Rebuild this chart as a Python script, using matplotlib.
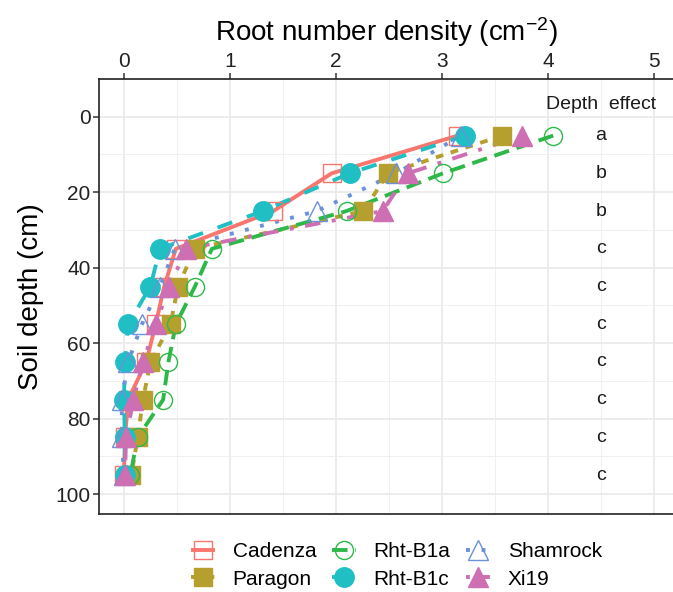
import matplotlib
matplotlib.use("Agg")
import matplotlib.pyplot as plt
from matplotlib.lines import Line2D
from matplotlib.ticker import MultipleLocator

plt.rcParams["font.family"] = ["Liberation Sans", "DejaVu Sans"]
plt.rcParams["mathtext.fontset"] = "custom"
plt.rcParams["mathtext.rm"] = "Liberation Sans"
plt.rcParams["mathtext.it"] = "Liberation Sans:italic"

# --- data -----------------------------------------------------------
depth = [5, 15, 25, 35, 45, 55, 65, 75, 85, 95]
cultivars = ["Cadenza", "Paragon", "Rht-B1a", "Rht-B1c", "Shamrock", "Xi19"]
cadenza = [3.15, 1.96, 1.41, 0.49, 0.38, 0.30, 0.21, 0.04, 0.01, 0.00]
paragon = [3.57, 2.49, 2.26, 0.67, 0.51, 0.44, 0.25, 0.18, 0.13, 0.07]
rht_b1a = [4.05, 3.01, 2.10, 0.83, 0.67, 0.49, 0.42, 0.37, 0.13, 0.06]
rht_b1c = [3.22, 2.13, 1.31, 0.34, 0.25, 0.04, 0.01, 0.00, 0.01, 0.01]
shamrock = [3.18, 2.57, 1.82, 0.48, 0.34, 0.17, 0.04, -0.02, -0.02, 0.00]
xi19 = [3.76, 2.68, 2.44, 0.59, 0.43, 0.30, 0.18, 0.09, 0.02, 0.01]
depth_effect = ["a", "b", "b", "c", "c", "c", "c", "c", "c", "c"]

series = [cadenza, paragon, rht_b1a, rht_b1c, shamrock, xi19]
colors = ["#F8766D", "#B59F2F", "#2EB84A", "#1FBFC4", "#6B91D8", "#CD6FB2"]
dashes = [None, (2, 2), (4, 2), (4, 4), (1, 3), (1, 3, 4, 3)]
markers = ["s", "s", "o", "o", "^", "^"]
filled = [False, True, False, True, False, True]
msizes = [12.5, 12.5, 13, 14, 14.5, 14.5]

fig = plt.figure(figsize=(6.73, 5.92), dpi=100)
ax = fig.add_axes([99 / 673, 1 - 514 / 592, 1 - 99 / 673, (514 - 79) / 592])

lw = 2.8
handles = []
for vals, name, c, d, m, f, ms in zip(series, cultivars, colors, dashes,
                                       markers, filled, msizes):
    kw = dict(color=c, lw=lw, solid_capstyle="butt", dash_capstyle="butt")
    if d is not None:
        kw["dashes"] = d
    ax.plot(vals, depth, zorder=2, **kw)
    mkw = dict(marker=m, ms=ms, mec=c, mew=1.0, mfc=c if f else "none")
    ax.plot(vals, depth, ls="none", zorder=3, **mkw)
    handles.append(Line2D([], [], label=name, **kw, **mkw))

# depth-effect letters
ax.text(4.5, -3.2, "Depth  effect", ha="center", va="center", fontsize=14,
        color="#1a1a1a")
for dpt, lab in zip(depth, depth_effect):
    ax.text(4.5, dpt, lab, ha="center", va="center", fontsize=14,
            color="#1a1a1a")

ax.set_xlim(-0.235, 5.18)
ax.set_ylim(105.3, -10)
ax.xaxis.tick_top()
ax.xaxis.set_label_position("top")
ax.xaxis.set_major_locator(MultipleLocator(1))
ax.xaxis.set_minor_locator(MultipleLocator(0.5))
ax.yaxis.set_major_locator(MultipleLocator(20))
ax.yaxis.set_minor_locator(MultipleLocator(10))
ax.set_yticks([0, 20, 40, 60, 80, 100])
ax.grid(True, which="major", color="#EBEBEB", lw=1.3, zorder=0)
ax.grid(True, which="minor", color="#F0F0F0", lw=0.7, zorder=0)
ax.set_axisbelow(True)
ax.tick_params(which="major", length=4, width=1.1, color="#333333",
               labelsize=15, labelcolor="#222222", pad=2)
ax.tick_params(which="minor", length=0)
for s in ["left", "top", "bottom"]:
    ax.spines[s].set_color("#222222")
    ax.spines[s].set_linewidth(1.2)
ax.spines["right"].set_visible(False)

ax.set_xlabel(r"Root number density (cm$^{-2}$)", fontsize=20, labelpad=8)
ax.set_ylabel("Soil depth (cm)", fontsize=20, labelpad=8)

fig.legend(handles=handles, ncol=3, loc="center", bbox_to_anchor=(0.589, 0.045),
           frameon=False, fontsize=15, handlelength=1.15, handletextpad=0.85,
           columnspacing=0.75, labelspacing=0.4, borderaxespad=0)

fig.savefig("out.png", dpi=100)
